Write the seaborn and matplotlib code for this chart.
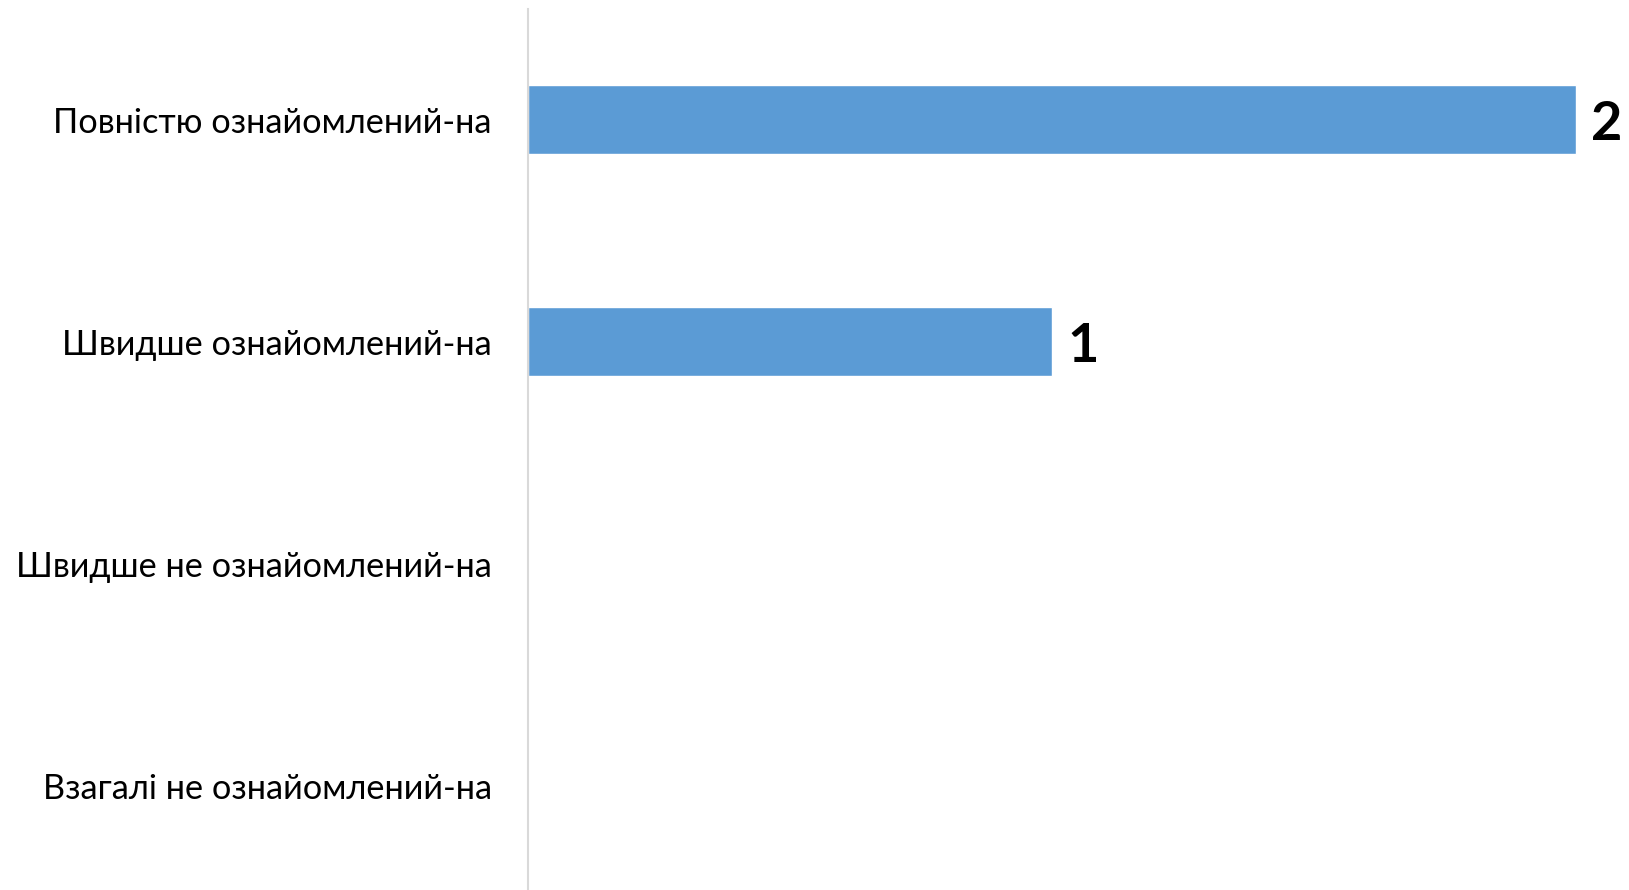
import matplotlib
matplotlib.use('Agg')
import matplotlib.pyplot as plt
import seaborn as sns
import pandas as pd

# chart data
categories = [
    "Повністю ознайомлений-на",
    "Швидше ознайомлений-на",
    "Швидше не ознайомлений-на",
    "Взагалі не ознайомлений-на",
]
counts = [2, 1, 0, 0]

bar_color = "#5B9BD5"

sns.set_theme(style="white")
plt.rcParams['font.family'] = ['Lato', 'DejaVu Sans']

df = pd.DataFrame({"category": categories, "count": counts})

fig = plt.figure(figsize=(16.29, 8.90), dpi=100)
ax = fig.add_axes([528 / 1629, 0, 1 - 528 / 1629, (890 - 8.5) / 890])

sns.barplot(data=df, y="category", x="count", orient="h", color=bar_color,
            width=0.31, saturation=1, ax=ax)

ax.set_xlim(0, 2.102)
ax.set_ylim(3.47, -0.5)
ax.set_xlabel("")
ax.set_ylabel("")
ax.set_xticks([])

for side in ["top", "right", "bottom"]:
    ax.spines[side].set_visible(False)
ax.spines["left"].set_color("#D9D9D9")
ax.spines["left"].set_linewidth(1.5)

ax.tick_params(axis="y", length=0, pad=26, labelsize=24.7, colors="#000000")

labels = [str(v) if v else "" for v in counts]
texts = ax.bar_label(ax.containers[0], labels=labels, padding=11, fontsize=39,
                     fontweight="bold", color="#000000")
for t in texts:
    t.set_va("center_baseline")

fig.savefig("out.png", dpi=100)
plt.close()
